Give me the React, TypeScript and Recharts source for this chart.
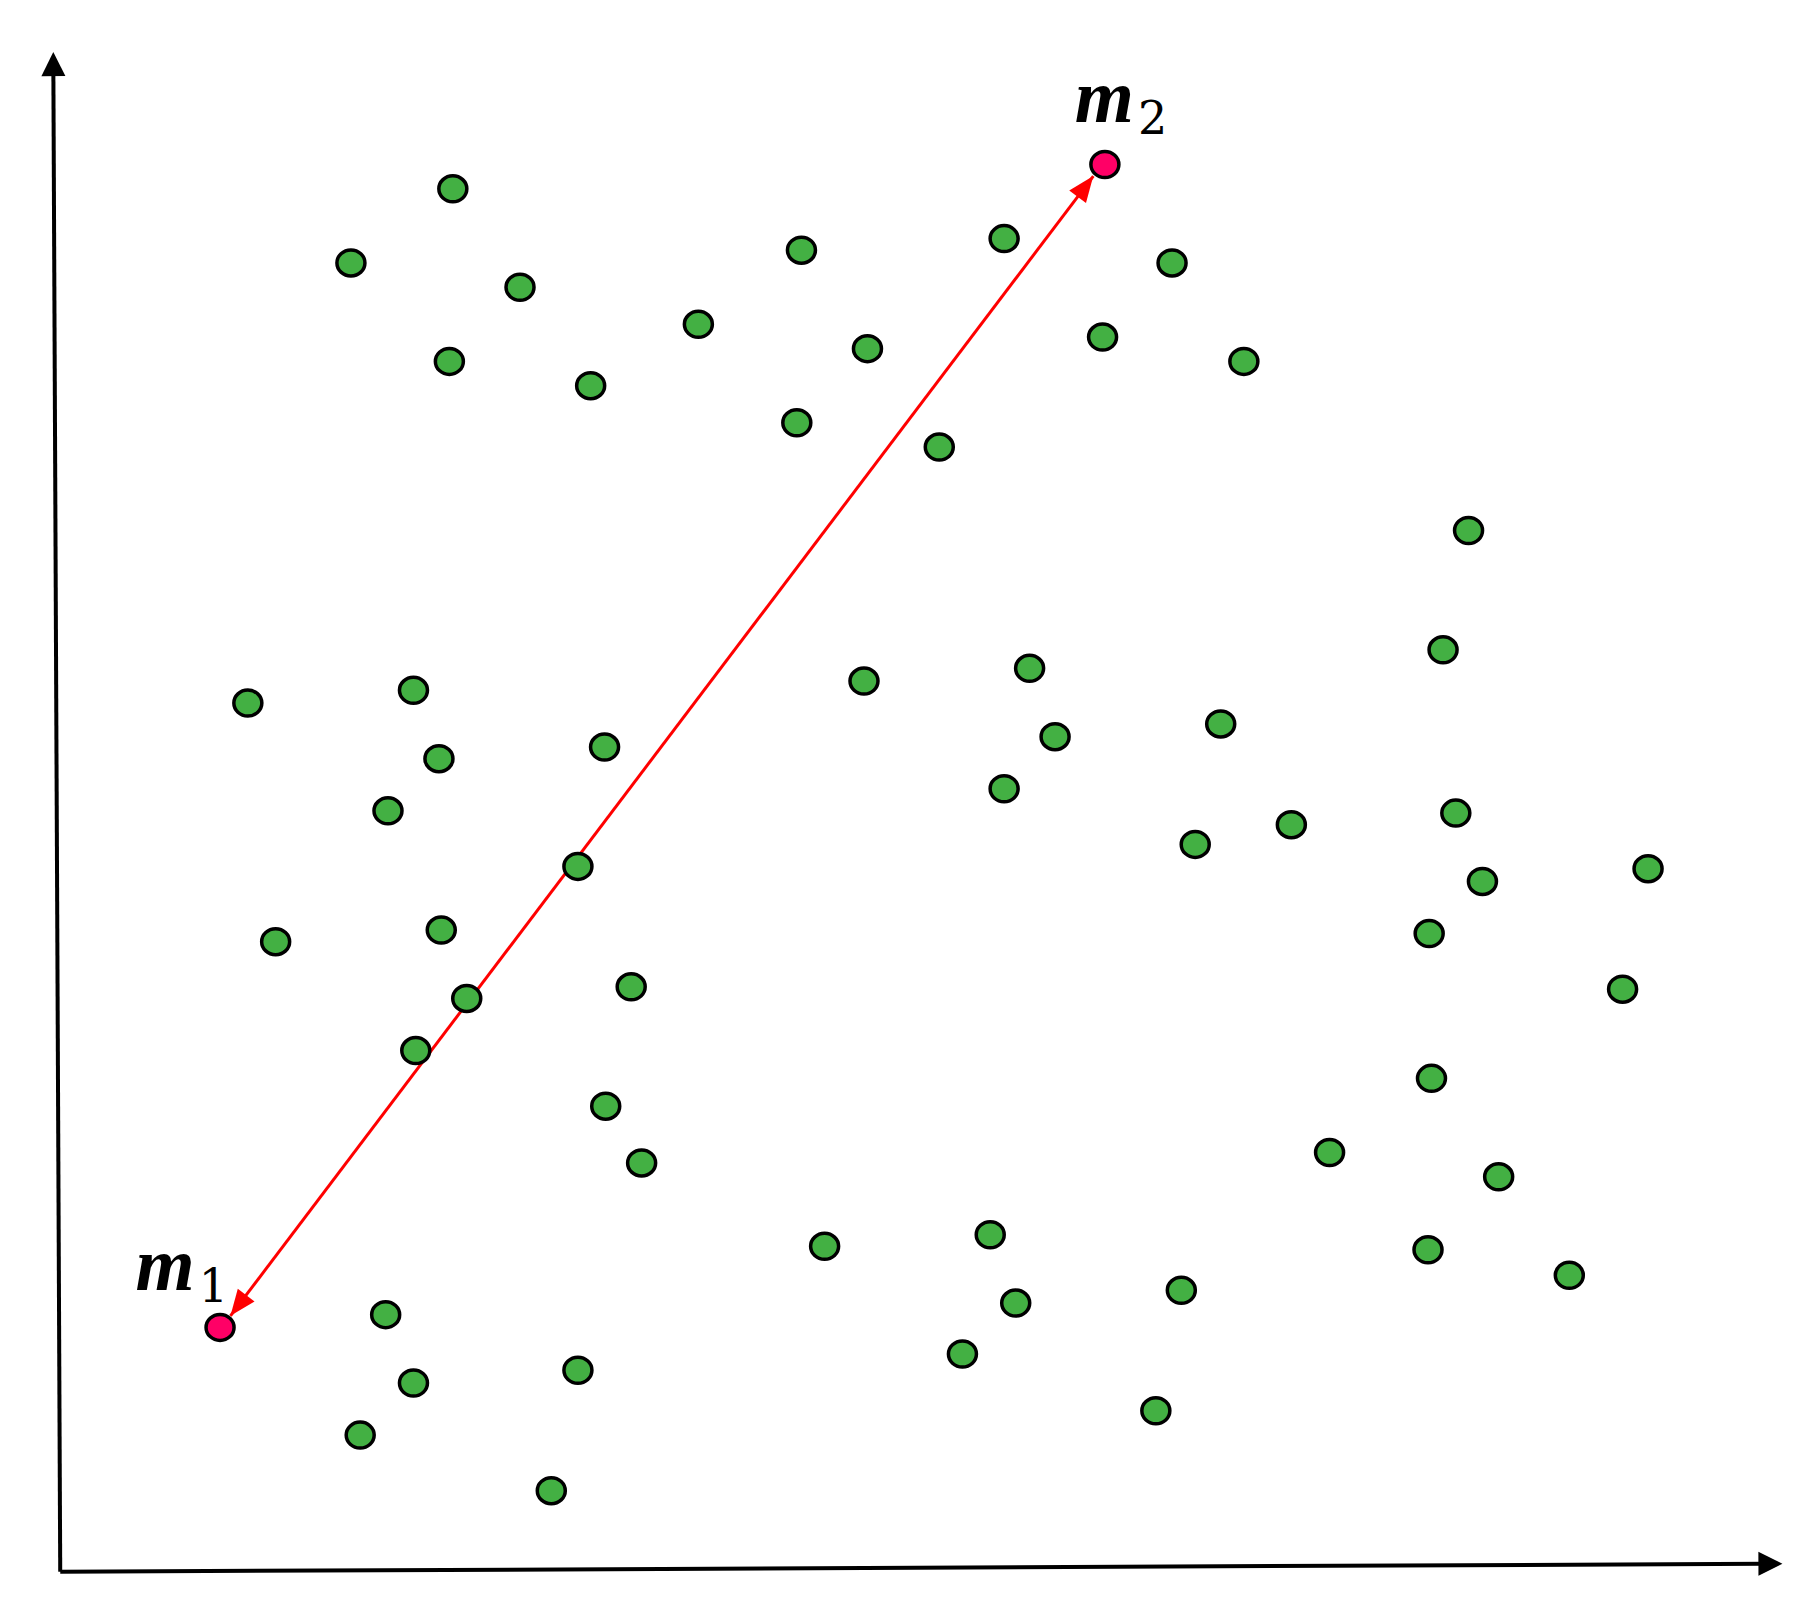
import { ScatterChart, Scatter, XAxis, YAxis, ReferenceLine } from 'recharts';

// all coordinates are read in the 1568x1390 view of the reference
const points = [
  { x: 391, y: 163 }, { x: 303, y: 227 }, { x: 449, y: 248 }, { x: 388, y: 312 },
  { x: 510, y: 333 }, { x: 603, y: 280 }, { x: 692, y: 216 }, { x: 749, y: 301 },
  { x: 688, y: 365 }, { x: 867, y: 206 }, { x: 811, y: 386 }, { x: 1012, y: 227 },
  { x: 952, y: 291 }, { x: 1074, y: 312 },
  { x: 214, y: 607 }, { x: 357, y: 596 }, { x: 379, y: 655 }, { x: 335, y: 700 },
  { x: 522, y: 645 }, { x: 499, y: 748 }, { x: 238, y: 813 }, { x: 381, y: 803 },
  { x: 403, y: 862 }, { x: 545, y: 852 }, { x: 359, y: 907 }, { x: 523, y: 955 },
  { x: 554, y: 1004 },
  { x: 746, y: 588 }, { x: 889, y: 577 }, { x: 911, y: 636 }, { x: 867, y: 681 },
  { x: 1054, y: 625 }, { x: 1032, y: 729 }, { x: 1115, y: 712 },
  { x: 1268, y: 458 }, { x: 1246, y: 561 }, { x: 1257, y: 702 }, { x: 1280, y: 761 },
  { x: 1234, y: 806 }, { x: 1423, y: 750 }, { x: 1401, y: 854 }, { x: 1236, y: 931 },
  { x: 1148, y: 995 }, { x: 1294, y: 1016 }, { x: 1233, y: 1079 }, { x: 1355, y: 1101 },
  { x: 712, y: 1076 }, { x: 855, y: 1066 }, { x: 877, y: 1125 }, { x: 831, y: 1169 },
  { x: 1020, y: 1114 }, { x: 998, y: 1218 },
  { x: 333, y: 1135 }, { x: 357, y: 1194 }, { x: 311, y: 1239 }, { x: 499, y: 1183 },
  { x: 476, y: 1287 },
];

const centroids = [
  { x: 190, y: 1146 },
  { x: 954, y: 142 },
];

const labels = [
  { x: 117, y: 1114, name: 'm', sub: '1' },
  { x: 928, y: 105, name: 'm', sub: '2' },
];

const arrowEnds = [{ x: 199, y: 1136 }, { x: 944, y: 152 }];
const yAxisEnds = [{ x: 52, y: 1357 }, { x: 46, y: 45 }];
const xAxisEnds = [{ x: 52, y: 1357 }, { x: 1539, y: 1350 }];

const head = (x1: number, y1: number, x2: number, y2: number, len: number, w: number) => {
  const a = Math.atan2(y2 - y1, x2 - x1);
  const bx = x2 - len * Math.cos(a);
  const by = y2 - len * Math.sin(a);
  const px = (w / 2) * Math.sin(a);
  const py = (w / 2) * -Math.cos(a);
  return `${x2},${y2} ${bx + px},${by + py} ${bx - px},${by - py}`;
};

const AxisArrow = (props: any) => {
  const { x1, y1, x2, y2 } = props;
  const a = Math.atan2(y2 - y1, x2 - x1);
  return (
    <g>
      <line x1={x1} y1={y1} x2={x2 - 18 * Math.cos(a)} y2={y2 - 18 * Math.sin(a)} stroke="#000" strokeWidth={4} />
      <polygon points={head(x1, y1, x2, y2, 24, 24)} fill="#000" />
    </g>
  );
};

const DoubleArrow = (props: any) => {
  const { x1, y1, x2, y2 } = props;
  return (
    <g>
      <line x1={x1} y1={y1} x2={x2} y2={y2} stroke="#ff0000" strokeWidth={3} />
      <polygon points={head(x1, y1, x2, y2, 26, 21)} fill="#ff0000" />
      <polygon points={head(x2, y2, x1, y1, 26, 21)} fill="#ff0000" />
    </g>
  );
};

const GreenDot = (p: any) => (
  <ellipse cx={p.cx} cy={p.cy} rx={14} ry={13} fill="#43b043" stroke="#000" strokeWidth={3.5} />
);

const RedDot = (p: any) => (
  <ellipse cx={p.cx} cy={p.cy} rx={14} ry={13} fill="#ff0066" stroke="#000" strokeWidth={3.5} />
);

const Label = (p: any) => (
  <text x={p.cx} y={p.cy} fill="#000">
    <tspan fontFamily="Liberation Serif" fontSize={76} fontWeight="bold" fontStyle="italic">{p.payload.name}</tspan>
    <tspan fontFamily="DejaVu Serif" fontSize={46} dx={4} dy={12}>{p.payload.sub}</tspan>
  </text>
);

export default function App() {
  return (
    <div>
      <style>{'body{margin:0;background:#fff}'}</style>
      <ScatterChart width={1816} height={1610} margin={{ top: 0, right: 0, bottom: 0, left: 0 }}>
        <XAxis type="number" dataKey="x" domain={[0, 1568]} hide />
        <YAxis type="number" dataKey="y" domain={[0, 1390]} reversed hide />
        <ReferenceLine segment={yAxisEnds} shape={AxisArrow} />
        <ReferenceLine segment={xAxisEnds} shape={AxisArrow} />
        <Scatter data={points} shape={GreenDot} isAnimationActive={false} />
        <Scatter data={centroids} shape={RedDot} isAnimationActive={false} />
        <Scatter data={labels} shape={Label} isAnimationActive={false} />
        <ReferenceLine segment={arrowEnds} shape={DoubleArrow} />
      </ScatterChart>
    </div>
  );
}
